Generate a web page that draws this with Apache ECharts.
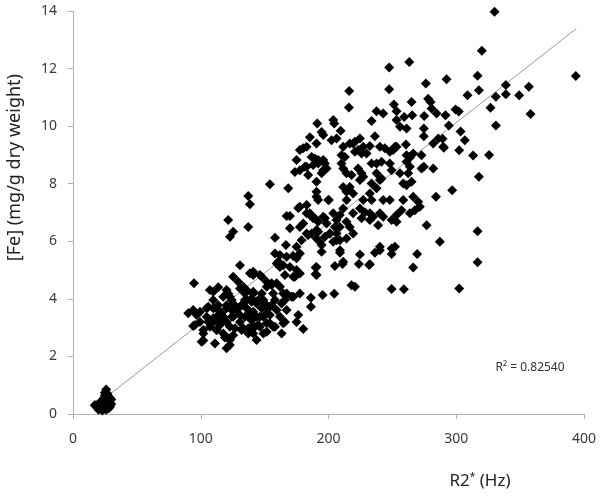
<!DOCTYPE html>
<html>
<head>
<meta charset="utf-8">
<script src="https://cdn.jsdelivr.net/npm/echarts@6/dist/echarts.min.js"></script>
<style>html,body{margin:0;padding:0;background:#fff}#c{width:600px;height:496px}</style>
</head>
<body>
<div id="c"></div>
<script>
// Axis ticks
const xTicks = [0, 100, 200, 300, 400];
const yTicks = [0, 2, 4, 6, 8, 10, 12, 14];

// Trend line endpoints (R2* Hz, Fe mg/g)
const trendX = [27, 394];
const trendY = [0.62, 13.39];
const rSquaredText = 'R\u00B2 = 0.82540';

// Low cluster near origin
const lowCluster = [
[17,0.3],[19,0.22],[20,0.35],[21,0.4],[22,0.28],[22,0.18],[23,0.45],[24,0.3],[24,0.55],[25,0.2],
[25,0.65],[26,0.85],[26,0.4],[27,0.5],[27,0.3],[28,0.6],[28,0.42],[29,0.25],[29,0.55],[30,0.5],
[23,0.12],[26,0.15],[21,0.25],[25,0.75],[27,0.7],[30,0.35],[18,0.3],[20,0.15],[28,0.2],[24,0.4]
];

// Dense cluster ~90-180 Hz
const denseCluster = [
[94.7,4.54],[90.2,3.5],[94.1,3.61],[96.8,3.44],[94.1,3.06],[99.4,3.2],[102,2.55],[111.1,2.45],[102,2.8],[120.2,2.28],
[122.8,2.57],[118.9,2.66],[107.2,4.31],[113.7,4.4],[129.3,4.59],[146.3,4.83],[133.3,4.42],[134.6,4.19],[141.1,4.25],[151.6,4.59],
[155.5,4.54],[147.7,4.19],[156.7,4.19],[162,4.42],[164.6,4.19],[171.1,4.07],[158.1,3.96],[167.2,3.61],[159.4,5.23],[163.3,5.17],
[173.7,4.77],[175,5.0],[176.3,3.44],[175,3.2],[165.9,3.2],[154.1,3.15],[146.3,3.03],[143.7,2.57],[151.6,2.86],[149,2.8],
[99.4,3.55],[95.5,3.09],[102,2.92],[100.7,2.51],[109.8,4.25],[105.9,3.73],[109.8,3.67],[113.7,3.61],[117.6,3.38],[109.8,3.32],
[115,3.2],[105.9,3.2],[112.4,2.92],[120.2,4.31],[122.8,4.07],[125.4,3.84],[120.2,3.78],[124.2,3.61],[128.1,3.67],[132,3.78],
[125.4,3.38],[130.7,3.44],[122.8,3.03],[121.5,2.63],[122.8,2.4],[125.4,2.74],[141.1,4.94],[130.7,4.36],[135.9,4.31],[141.1,4.19],
[134.6,3.96],[139.8,3.9],[145,3.96],[135.9,3.67],[141.1,3.55],[137.2,3.38],[143.7,3.38],[133.3,2.98],[139.8,3.03],[145,3.09],
[137.2,2.8],[141.1,2.8],[149,3.96],[151.6,3.73],[155.5,3.78],[149,3.38],[154.1,3.44],[151.6,3.15],[156.7,3.03],[159.4,4.54],
[155.5,4.48],[151.6,4.42],[164.6,3.15],[172.4,4.07],[165.9,3.96],[167.2,4.19],[163.3,3.84],
[109.8,3.96],[113.7,3.78],[117.6,4.07],[121.5,4.19],[124.2,3.96],[120.2,3.67],[116.3,3.5],[112.4,3.38],[109.8,3.2],[115,3.09],
[120.2,3.2],[124.2,3.38],[128.1,3.61],[132,3.78],[135.9,3.96],[139.8,4.02],[143.7,3.84],[147.7,3.67],[151.6,3.5],[138.5,3.55],
[134.6,3.38],[130.7,3.2],[126.8,2.98],[132,2.92],[137.2,2.98],[142.4,3.03],[139.8,3.26],[146.3,3.38],[150.2,3.84],[154.1,3.73],
[159.4,3.61],[162,3.38],[158.1,3.03],[163.3,2.8],[117.6,2.8],[112.4,2.92],[107.2,3.03],[104.6,3.38],[104.6,3.67]
];

// Rising band ~120-210 Hz
const risingBand = [
[180.2,9.23],[175,8.82],[177.6,8.47],[173.7,8.41],[189.4,8.88],[192,8.82],[188,8.65],[197.2,8.7],[195.9,8.47],[182.9,8.59],
[184.1,8.3],[154.1,7.98],[168.5,7.84],[190.6,7.55],[199.8,7.43],[137.2,7.57],[138.5,7.29],[121.5,6.74],[125.4,6.33],[122.9,6.16],
[137.2,6.5],[176.3,7.16],[167.2,6.88],[169.8,6.88],[182.9,6.97],[189.4,6.8],[185.4,6.91],[197.2,6.8],[169.8,6.45],[177.6,6.5],
[180.2,6.62],[158.1,6.12],[166.7,5.87],[175,5.81],[184.1,6.22],[192,6.33],[190.6,6.1],[193.3,5.98],[201.1,6.27],[206.3,6.04],
[205,6.5],[198.5,6.62],[158.1,5.58],[162,5.52],[167.2,5.46],[172.4,5.49],[160.6,5.29],[164.6,5.17],[169.8,5.11],[162,5.11],
[175,5.41],[177.6,5.58],[130.7,5.17],[125.4,4.77],[138.5,4.89],[141.1,4.83],[147.7,4.77],[165.9,4.83],[172.4,4.77],[190.6,5.11],
[190.6,4.83]
];

// Upper-middle band ~175-290 Hz
const upperBand = [
[247.5,12.04],[263.2,12.23],[216.2,11.22],[247.5,11.28],[216,10.65],[276.2,11.48],
[278,10.95],[279.9,10.84],[251.2,10.75],[253.3,10.52],[265,10.84],[237.6,10.52],[242.8,10.44],[233.7,10.18],[259.2,10.32],[265.5,10.38],
[253.3,10.21],[256,9.98],[261.1,9.92],[274.9,10.35],[274.6,9.92],[274.6,9.65],[280.7,10.61],[284.6,10.44],
[282,9.4],[285.9,9.57],[289.8,9.28],[272.8,8.99],[274.6,8.59],[282,8.53],[260.6,9.36],[263.7,8.93],[253.3,9.28],[250.6,9.17],
[240.2,9.28],[244.1,9.23],[232.4,9.31],[236.3,9.65],[224.6,9.57],[219.3,9.4],[220.7,9.11],[227.2,9.28],[229.8,9.05],[206.3,9.57],
[202.4,9.51],[209.5,9.84],[203.7,10.21],[204.5,10.09],[191.2,10.09],[194.6,9.8],[195.9,9.69],[185.4,9.61],[182.9,9.28],[177.6,9.17],
[190.6,9.4],[186.8,8.93],[181.5,8.59],[191.9,8.7],[195.9,8.82],[198.5,8.53],[194.6,8.36],[190.6,8.07],[190.6,7.72],[191.9,7.43],
[200.3,7.43],[182.9,7.26],[185.4,6.97],[177.6,7.2],[188,6.8],[191.9,6.68],[195.9,6.85],
[211.5,9.28],[210.2,8.99],[212.8,8.93],[216.7,9.4],[220.7,9.46],[223.2,9.17],[225.9,9.05],[210.2,8.7],[211.5,8.53],[214.1,8.36],
[218,8.3],[223.2,8.53],[225.9,8.36],[227.2,8.24],[224.6,8.13],[233.7,8.7],[237.6,8.7],[241.5,8.76],[248,9.11],[252,9.28],
[261.1,8.99],[263.7,8.91],[266.3,9.05],[211.5,7.89],[214.1,7.72],[216.7,7.89],[219.3,7.66],[237.6,8.36],[240.2,8.13],[241.5,8.18],
[233.7,8.01],[237.6,7.84],[248,8.7],[249.4,8.47],[261.1,8.76],[263.7,8.59],[255.9,8.36],[262.4,8.36],[265,8.07],[258.5,8.01],
[261.1,7.95],[272.8,8.53],
[266.3,7.55],[270.2,7.37],[271.5,7.2],[267.6,7.08],[263.7,6.97],[258.5,7.43],[257.2,7.08],[253.3,6.91],[249.4,6.74],[253.3,6.68],
[242.8,7.43],[248,7.43],[240.2,6.97],[242.8,6.85],[238.9,6.56],[232.4,7.66],[233.7,7.43],[232.4,6.97],[235,6.85],[232.4,6.74],
[227.2,7.43],[224.6,7.14],[228.5,7.01],[225.9,6.8],[219.3,6.97],[214.1,7.43],[211.5,7.14],[208.9,6.91],[203.7,6.97],[206.3,6.74],
[214.1,6.68],[216.7,6.5],[219.3,6.27],[208.9,6.5],[206.3,6.27],[208.9,6.04],[214.1,6.1],[201.1,6.27],[203.7,5.98],[194.6,5.87],
[197.2,6.16],[190.6,6.39],[186.8,6.27],[182.9,6.27],[178.9,6.04],[240.2,5.81],[249.4,5.75],[252,5.81],[276.8,6.56],[287.2,5.98],
[284.1,7.55],[211.5,5.29],[232.4,5.2]
];

// Lower-right scattered points
const lowerRight = [
[316.7,5.27],[302.3,4.36],[249.4,4.34],[259,4.33],[218,4.47],[220.7,4.42],[195.4,4.13],[204.5,4.18],[186.2,4.04],[186.2,3.73],
[180.2,2.95],[177.6,4.19],[177.6,4.88],[189.9,5.09],[189.9,4.86],[205,5.14],[211,5.21],[223.8,5.21],[231.8,5.18],[224.6,5.54],
[209,5.6],[209,5.69],[236.3,5.6],[240.2,5.69],[249.4,5.56],[269.4,5.56],[266.3,5.09],[194.6,5.64]
];

// Top-right points
const topRight = [
[330,13.97],[320,12.62],[292.4,11.63],[316.7,11.75],[317.7,11.25],[308.8,11.07],[338.8,11.43],[331,11.02],[338.8,11.11],[349.2,11.07],
[356.8,11.37],[393.6,11.74],[358.1,10.42],[326.8,10.64],[331,10.02],[299.4,10.58],[302,10.51],[291.6,10.38],[294.2,10.02],[303.4,9.81],
[306.7,9.51],[289.3,9.56],[290.3,9.25],[302.3,9.16],[313.2,8.98],[325.7,9.0],[317.7,8.24],[296.8,7.77],[316.7,6.35]
];

const allPoints = [].concat(lowCluster, denseCluster, risingBand, upperBand, lowerRight, topRight);
const trendData = trendX.map((x, i) => [x, trendY[i]]);

const chart = echarts.init(document.getElementById('c'), null, {renderer: 'canvas'});
const font = 'Noto Sans';
chart.setOption({
  animation: false,
  backgroundColor: '#ffffff',
  grid: {left: 73, right: 16, top: 11, bottom: 82, containLabel: false},
  xAxis: {
    type: 'value', min: xTicks[0], max: xTicks[xTicks.length - 1], interval: 100,
    axisLine: {show: true, lineStyle: {color: '#b0b0b0', width: 1}},
    axisTick: {show: true, inside: false, length: 5, lineStyle: {color: '#b0b0b0'}},
    axisLabel: {margin: 18, color: '#3a3a3a', fontSize: 14, fontFamily: font},
    splitLine: {show: false}
  },
  yAxis: {
    type: 'value', min: yTicks[0], max: yTicks[yTicks.length - 1], interval: 2,
    axisLine: {show: true, lineStyle: {color: '#b0b0b0', width: 1}},
    axisTick: {show: true, inside: false, length: 5, lineStyle: {color: '#b0b0b0'}},
    axisLabel: {margin: 16, color: '#3a3a3a', fontSize: 14, fontFamily: font},
    splitLine: {show: false}
  },
  graphic: [
    {type: 'text', left: 6, top: 74, rotation: Math.PI / 2, style: {
      text: '[Fe] (mg/g dry weight)', fill: '#222', font: '18px "Noto Sans"'}},
    {type: 'text', x: 480, y: 481, style: {
      text: '{a|R2}{s|*}{a| (Hz)}', textAlign: 'center', textVerticalAlign: 'middle',
      rich: {a: {fontSize: 17, fontFamily: font, fill: '#222'}, s: {fontSize: 10, fontFamily: font, fill: '#222', verticalAlign: 'top', padding: [0,0,8,0]}}}},
    {type: 'text', x: 530, y: 368, style: {
      text: rSquaredText, textAlign: 'center', textVerticalAlign: 'middle', fill: '#333', font: '12px "Noto Sans"'}}
  ],
  series: [
    {
      type: 'line', data: trendData, showSymbol: false, symbol: 'none',
      lineStyle: {color: '#9a9a9a', width: 1}, z: 1, silent: true
    },
    {
      type: 'scatter', data: allPoints, symbol: 'diamond', symbolSize: 10,
      itemStyle: {color: '#000', opacity: 1}, z: 2
    }
  ]
});
</script>
</body>
</html>
